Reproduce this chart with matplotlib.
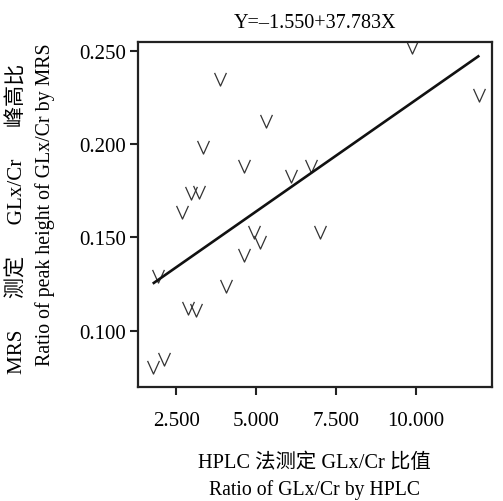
import matplotlib
matplotlib.use("Agg")
import matplotlib.pyplot as plt
import numpy as np
from matplotlib.path import Path

plt.rcParams['font.family'] = ['Liberation Serif', 'Noto Sans CJK SC']

# HPLC GLx/Cr ratio (x) vs MRS GLx/Cr peak height ratio (y)
hplc = [3.88, 9.87, 11.99, 5.32, 3.32, 4.61, 6.08, 6.73, 2.94, 3.21, 2.68,
        4.93, 5.11, 6.99, 4.62, 1.93, 4.04, 2.87, 3.11, 1.77, 2.10]
mrs = [0.2348, 0.2518, 0.2263, 0.2125, 0.1983, 0.1881, 0.1830, 0.1882, 0.1736,
       0.1741, 0.1634, 0.1527, 0.1474, 0.1530, 0.1406, 0.1291, 0.1238, 0.1120,
       0.1113, 0.0807, 0.0848]

# fitted line as drawn
fit_x = [1.79, 11.96]
fit_b0 = 0.1042
fit_b1 = 0.01194

xticks = [2.5, 5.0, 7.5, 10.0]
xtick_labels = ["2.500", "5.000", "7.500", "10.000"]
yticks = [0.10, 0.15, 0.20, 0.25]
ytick_labels = ["0.100", "0.150", "0.200", "0.250"]

title = "Y=–1.550+37.783X"
xlabel_cn = "HPLC 法测定 GLx/Cr 比值"
xlabel_en = "Ratio of GLx/Cr by HPLC"
# first y label line is spread out to the length of the second in the original
ylabel_cn = "MRS" + " " * 6 + "测定" + " " * 6 + "GLx/Cr" + " " * 6 + "峰高比"
ylabel_en = "Ratio of peak height of GLx/Cr by MRS"

fig = plt.figure(figsize=(5.03, 5.02), dpi=100)
ax = fig.add_axes([0.2744, 0.2271, 0.7031, 0.6866])

v_marker = Path([(-0.45, 0.5), (0.0, -0.5), (0.45, 0.5)],
                [Path.MOVETO, Path.LINETO, Path.LINETO])
ax.plot(hplc, mrs, linestyle='none', marker=v_marker, markersize=9.5,
        markerfacecolor='none', markeredgecolor='#333333', markeredgewidth=0.9)

fx = np.array(fit_x)
ax.plot(fx, fit_b0 + fit_b1 * fx, color='#111111', linewidth=1.9)

ax.set_xlim(1.295, 12.38)
ax.set_ylim(0.0698, 0.2545)
ax.set_xticks(xticks)
ax.set_xticklabels(xtick_labels)
ax.set_yticks(yticks)
ax.set_yticklabels(ytick_labels)
ax.tick_params(axis='both', direction='out', length=6, width=1.5,
               labelsize=15, color='#222222')
ax.tick_params(axis='x', pad=11)
ax.tick_params(axis='y', pad=2.5)
for s in ax.spines.values():
    s.set_linewidth(1.6)
    s.set_color('#222222')

ax.set_title(title, fontsize=14.5, pad=11)

cx = (0.2744 + 0.9775) / 2
fig.text(cx, 1 - 463 / 502, xlabel_cn, ha='center', va='center', fontsize=14.7)
fig.text(cx, 1 - 490 / 502, xlabel_en, ha='center', va='center', fontsize=14.2)
fig.text(17 / 503, 1 - 219 / 502, ylabel_cn, ha='center', va='center',
         rotation=90, fontsize=15.2)
fig.text(45 / 503, 1 - 205 / 502, ylabel_en, ha='center', va='center',
         rotation=90, fontsize=14.3)

fig.savefig("out.png", dpi=100)
